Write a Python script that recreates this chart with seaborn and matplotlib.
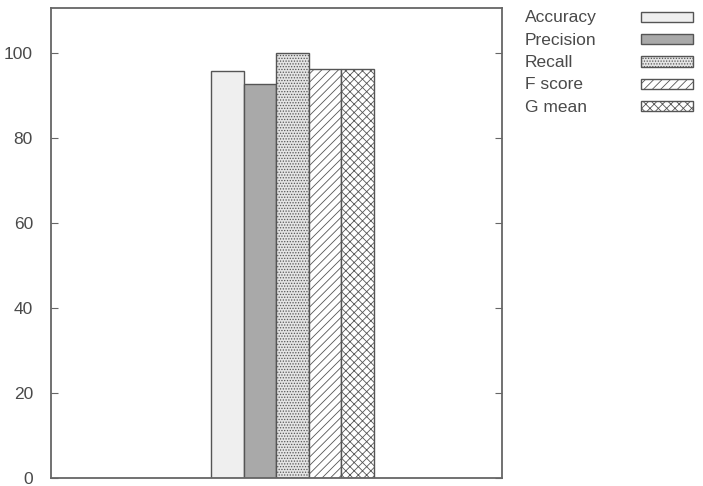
import matplotlib
matplotlib.use("Agg")
import matplotlib.pyplot as plt
import seaborn as sns
import pandas as pd
from matplotlib.patches import Patch

metrics = ["Accuracy", "Precision", "Recall", "F score", "G mean"]
values = [95.7, 92.6, 99.9, 96.2, 96.2]
group = ["all"] * len(metrics)
yticks = [0, 20, 40, 60, 80, 100]

fills = ["#efefef", "#a9a9a9", "#e4e4e4", "white", "white"]
hatches = ["", "", "......", "////", "xxxx"]

sns.set_theme(style="white")
plt.rcParams["font.family"] = ["Liberation Sans", "DejaVu Sans"]
plt.rcParams["hatch.color"] = "#555555"
plt.rcParams["hatch.linewidth"] = 0.6

df = pd.DataFrame({"group": group, "metric": metrics, "value": values})

fig = plt.figure(figsize=(7.03, 4.86), dpi=100)
ax = fig.add_axes([51/703, 8/486, 451/703, 470/486])
sns.barplot(data=df, x="group", y="value", hue="metric", hue_order=metrics,
            palette=fills, width=0.8, ax=ax, legend=False, saturation=1)

for bar, h, f in zip(ax.patches, hatches, fills):
    bar.set_hatch(h)
    bar.set_facecolor(f)
    bar.set_edgecolor("#555555")
    bar.set_linewidth(1.0)

ax.set_ylim(0, 110.5)
ax.set_xlim(-1.186, 1.03)
ax.set_yticks(yticks)
ax.set_xticks([])
ax.set_xlabel("")
ax.set_ylabel("")
ax.tick_params(axis="y", direction="in", left=True, right=True, length=5,
               color="#666666", labelsize=12.5, labelcolor="#4a4a4a", pad=13, width=0.8)
for s in ax.spines.values():
    s.set_color("#666666")
    s.set_linewidth(1.3)

fs = 12.5
# text column of the legend
text_handles = [Patch(facecolor="none", edgecolor="none", label=m) for m in metrics]
leg1 = fig.legend(handles=text_handles, loc="upper left",
                  bbox_to_anchor=(525/703, 1 - 10/486), frameon=False, fontsize=fs,
                  handlelength=0, handletextpad=0, labelspacing=0.42, borderaxespad=0,
                  borderpad=0)
for t in leg1.get_texts():
    t.set_color("#4a4a4a")
# swatch column of the legend
handles = [Patch(facecolor=f, edgecolor="#555555", hatch=h, label=" ", linewidth=1.0)
           for f, h in zip(fills, hatches)]
leg2 = fig.legend(handles=handles, loc="upper left",
                  bbox_to_anchor=(641/703, 1 - 11/486), frameon=False, fontsize=fs,
                  handlelength=3.0, handleheight=0.55, handletextpad=0,
                  labelspacing=0.42, borderaxespad=0, borderpad=0)

fig.savefig("out.png", dpi=100)
